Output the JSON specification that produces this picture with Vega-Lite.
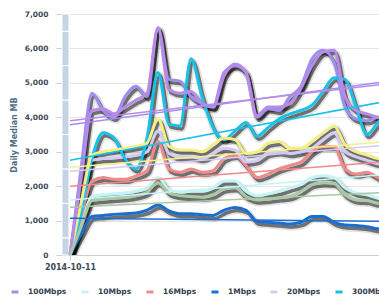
{
"$schema":"https://vega.github.io/schema/vega-lite/v6.json",
"width":330,"height":241,"autosize":"none",
"padding":{"left":62,"top":14,"right":0,"bottom":53},
"background":"white",
"config":{"font":"DejaVu Sans","view":{"stroke":null},
"axisY":{"domain":false,"tickColor":"#c0d0e0","tickSize":6,"labelPadding":8,"labelFontSize":7.5,"labelFontWeight":"bold","labelColor":"#3b4a58","gridColor":"#e6e6e6","titleFontSize":8,"titleFontWeight":"bold","titleColor":"#4d6f86","titlePadding":6},
"axisX":{"grid":false,"domainColor":"#c0d0e0","tickColor":"#c0d0e0","tickSize":5,"labelFontSize":8,"labelFontWeight":"bold","labelColor":"#3b4a58","labelPadding":3,"labelFlush":false}},
"datasets":{
"band":[{"from":"2014/10/10 06:33","to":"2014/10/10 21:49","lo":0,"hi":500},{"from":"2014/10/10 06:33","to":"2014/10/10 21:49","lo":500,"hi":1500},{"from":"2014/10/10 06:33","to":"2014/10/10 21:49","lo":1500,"hi":2500},{"from":"2014/10/10 06:33","to":"2014/10/10 21:49","lo":2500,"hi":3500},{"from":"2014/10/10 06:33","to":"2014/10/10 21:49","lo":3500,"hi":4500},{"from":"2014/10/10 06:33","to":"2014/10/10 21:49","lo":4500,"hi":5500},{"from":"2014/10/10 06:33","to":"2014/10/10 21:49","lo":5500,"hi":6500},{"from":"2014/10/10 06:33","to":"2014/10/10 21:49","lo":6500,"hi":7000}],
"trend":[
{"series":"100Mbps","date":"2014/10/11","mb":3780},{"series":"100Mbps","date":"2014/11/09","mb":5050},
{"series":"10Mbps","date":"2014/10/11","mb":1600},{"series":"10Mbps","date":"2014/11/09","mb":2350},
{"series":"16Mbps","date":"2014/10/11","mb":2000},{"series":"16Mbps","date":"2014/11/09","mb":2720},
{"series":"1Mbps","date":"2014/10/11","mb":1070},{"series":"1Mbps","date":"2014/11/09","mb":980},
{"series":"20Mbps","date":"2014/10/11","mb":2430},{"series":"20Mbps","date":"2014/11/09","mb":3200},
{"series":"300Mbps","date":"2014/10/11","mb":2750},{"series":"300Mbps","date":"2014/11/09","mb":4480},
{"series":"30Mbps","date":"2014/10/11","mb":2550},{"series":"30Mbps","date":"2014/11/09","mb":3300},
{"series":"500Mbps","date":"2014/10/11","mb":3900},{"series":"500Mbps","date":"2014/11/09","mb":4980},
{"series":"5Mbps","date":"2014/10/11","mb":1390},{"series":"5Mbps","date":"2014/11/09","mb":1820}],
"daily":[
{"series":"100Mbps","date":"2014/10/11","mb":0},{"series":"100Mbps","date":"2014/10/12","mb":2500},{"series":"100Mbps","date":"2014/10/13","mb":4700},{"series":"100Mbps","date":"2014/10/14","mb":4200},{"series":"100Mbps","date":"2014/10/15","mb":4000},{"series":"100Mbps","date":"2014/10/16","mb":4600},{"series":"100Mbps","date":"2014/10/17","mb":4900},{"series":"100Mbps","date":"2014/10/18","mb":4600},{"series":"100Mbps","date":"2014/10/19","mb":6600},{"series":"100Mbps","date":"2014/10/20","mb":5100},{"series":"100Mbps","date":"2014/10/21","mb":5050},{"series":"100Mbps","date":"2014/10/22","mb":4600},{"series":"100Mbps","date":"2014/10/23","mb":4400},{"series":"100Mbps","date":"2014/10/24","mb":4300},{"series":"100Mbps","date":"2014/10/25","mb":5300},{"series":"100Mbps","date":"2014/10/26","mb":5500},{"series":"100Mbps","date":"2014/10/27","mb":5300},{"series":"100Mbps","date":"2014/10/28","mb":4000},{"series":"100Mbps","date":"2014/10/29","mb":4250},{"series":"100Mbps","date":"2014/10/30","mb":4200},{"series":"100Mbps","date":"2014/10/31","mb":4600},{"series":"100Mbps","date":"2014/11/01","mb":4900},{"series":"100Mbps","date":"2014/11/02","mb":5700},{"series":"100Mbps","date":"2014/11/03","mb":5950},{"series":"100Mbps","date":"2014/11/04","mb":5600},{"series":"100Mbps","date":"2014/11/05","mb":4300},{"series":"100Mbps","date":"2014/11/06","mb":3950},{"series":"100Mbps","date":"2014/11/07","mb":3900},{"series":"100Mbps","date":"2014/11/08","mb":4000},{"series":"100Mbps","date":"2014/11/09","mb":4000},
{"series":"10Mbps","date":"2014/10/11","mb":0},{"series":"10Mbps","date":"2014/10/12","mb":900},{"series":"10Mbps","date":"2014/10/13","mb":1700},{"series":"10Mbps","date":"2014/10/14","mb":1750},{"series":"10Mbps","date":"2014/10/15","mb":1780},{"series":"10Mbps","date":"2014/10/16","mb":1800},{"series":"10Mbps","date":"2014/10/17","mb":1850},{"series":"10Mbps","date":"2014/10/18","mb":1950},{"series":"10Mbps","date":"2014/10/19","mb":2250},{"series":"10Mbps","date":"2014/10/20","mb":1900},{"series":"10Mbps","date":"2014/10/21","mb":1820},{"series":"10Mbps","date":"2014/10/22","mb":1850},{"series":"10Mbps","date":"2014/10/23","mb":1850},{"series":"10Mbps","date":"2014/10/24","mb":1950},{"series":"10Mbps","date":"2014/10/25","mb":2150},{"series":"10Mbps","date":"2014/10/26","mb":2150},{"series":"10Mbps","date":"2014/10/27","mb":1850},{"series":"10Mbps","date":"2014/10/28","mb":1720},{"series":"10Mbps","date":"2014/10/29","mb":1780},{"series":"10Mbps","date":"2014/10/30","mb":1850},{"series":"10Mbps","date":"2014/10/31","mb":1950},{"series":"10Mbps","date":"2014/11/01","mb":2050},{"series":"10Mbps","date":"2014/11/02","mb":2250},{"series":"10Mbps","date":"2014/11/03","mb":2300},{"series":"10Mbps","date":"2014/11/04","mb":2250},{"series":"10Mbps","date":"2014/11/05","mb":1950},{"series":"10Mbps","date":"2014/11/06","mb":1800},{"series":"10Mbps","date":"2014/11/07","mb":1750},{"series":"10Mbps","date":"2014/11/08","mb":1650},{"series":"10Mbps","date":"2014/11/09","mb":1600},
{"series":"16Mbps","date":"2014/10/11","mb":0},{"series":"16Mbps","date":"2014/10/12","mb":1100},{"series":"16Mbps","date":"2014/10/13","mb":2150},{"series":"16Mbps","date":"2014/10/14","mb":2250},{"series":"16Mbps","date":"2014/10/15","mb":2200},{"series":"16Mbps","date":"2014/10/16","mb":2200},{"series":"16Mbps","date":"2014/10/17","mb":2300},{"series":"16Mbps","date":"2014/10/18","mb":2450},{"series":"16Mbps","date":"2014/10/19","mb":3300},{"series":"16Mbps","date":"2014/10/20","mb":2500},{"series":"16Mbps","date":"2014/10/21","mb":2400},{"series":"16Mbps","date":"2014/10/22","mb":2500},{"series":"16Mbps","date":"2014/10/23","mb":2400},{"series":"16Mbps","date":"2014/10/24","mb":2450},{"series":"16Mbps","date":"2014/10/25","mb":2800},{"series":"16Mbps","date":"2014/10/26","mb":2900},{"series":"16Mbps","date":"2014/10/27","mb":2600},{"series":"16Mbps","date":"2014/10/28","mb":2250},{"series":"16Mbps","date":"2014/10/29","mb":2350},{"series":"16Mbps","date":"2014/10/30","mb":2500},{"series":"16Mbps","date":"2014/10/31","mb":2600},{"series":"16Mbps","date":"2014/11/01","mb":2700},{"series":"16Mbps","date":"2014/11/02","mb":3000},{"series":"16Mbps","date":"2014/11/03","mb":3150},{"series":"16Mbps","date":"2014/11/04","mb":3150},{"series":"16Mbps","date":"2014/11/05","mb":2500},{"series":"16Mbps","date":"2014/11/06","mb":2350},{"series":"16Mbps","date":"2014/11/07","mb":2400},{"series":"16Mbps","date":"2014/11/08","mb":2250},{"series":"16Mbps","date":"2014/11/09","mb":2200},
{"series":"1Mbps","date":"2014/10/11","mb":0},{"series":"1Mbps","date":"2014/10/12","mb":600},{"series":"1Mbps","date":"2014/10/13","mb":1120},{"series":"1Mbps","date":"2014/10/14","mb":1150},{"series":"1Mbps","date":"2014/10/15","mb":1180},{"series":"1Mbps","date":"2014/10/16","mb":1200},{"series":"1Mbps","date":"2014/10/17","mb":1220},{"series":"1Mbps","date":"2014/10/18","mb":1300},{"series":"1Mbps","date":"2014/10/19","mb":1450},{"series":"1Mbps","date":"2014/10/20","mb":1280},{"series":"1Mbps","date":"2014/10/21","mb":1200},{"series":"1Mbps","date":"2014/10/22","mb":1200},{"series":"1Mbps","date":"2014/10/23","mb":1170},{"series":"1Mbps","date":"2014/10/24","mb":1150},{"series":"1Mbps","date":"2014/10/25","mb":1300},{"series":"1Mbps","date":"2014/10/26","mb":1380},{"series":"1Mbps","date":"2014/10/27","mb":1300},{"series":"1Mbps","date":"2014/10/28","mb":980},{"series":"1Mbps","date":"2014/10/29","mb":950},{"series":"1Mbps","date":"2014/10/30","mb":930},{"series":"1Mbps","date":"2014/10/31","mb":900},{"series":"1Mbps","date":"2014/11/01","mb":950},{"series":"1Mbps","date":"2014/11/02","mb":1120},{"series":"1Mbps","date":"2014/11/03","mb":1120},{"series":"1Mbps","date":"2014/11/04","mb":950},{"series":"1Mbps","date":"2014/11/05","mb":870},{"series":"1Mbps","date":"2014/11/06","mb":860},{"series":"1Mbps","date":"2014/11/07","mb":820},{"series":"1Mbps","date":"2014/11/08","mb":760},{"series":"1Mbps","date":"2014/11/09","mb":740},
{"series":"20Mbps","date":"2014/10/11","mb":0},{"series":"20Mbps","date":"2014/10/12","mb":1400},{"series":"20Mbps","date":"2014/10/13","mb":2750},{"series":"20Mbps","date":"2014/10/14","mb":2800},{"series":"20Mbps","date":"2014/10/15","mb":2820},{"series":"20Mbps","date":"2014/10/16","mb":2850},{"series":"20Mbps","date":"2014/10/17","mb":2900},{"series":"20Mbps","date":"2014/10/18","mb":3000},{"series":"20Mbps","date":"2014/10/19","mb":3600},{"series":"20Mbps","date":"2014/10/20","mb":2950},{"series":"20Mbps","date":"2014/10/21","mb":2850},{"series":"20Mbps","date":"2014/10/22","mb":2850},{"series":"20Mbps","date":"2014/10/23","mb":2800},{"series":"20Mbps","date":"2014/10/24","mb":2950},{"series":"20Mbps","date":"2014/10/25","mb":3100},{"series":"20Mbps","date":"2014/10/26","mb":3050},{"series":"20Mbps","date":"2014/10/27","mb":2700},{"series":"20Mbps","date":"2014/10/28","mb":2750},{"series":"20Mbps","date":"2014/10/29","mb":2950},{"series":"20Mbps","date":"2014/10/30","mb":3000},{"series":"20Mbps","date":"2014/10/31","mb":2950},{"series":"20Mbps","date":"2014/11/01","mb":3000},{"series":"20Mbps","date":"2014/11/02","mb":3100},{"series":"20Mbps","date":"2014/11/03","mb":3350},{"series":"20Mbps","date":"2014/11/04","mb":3550},{"series":"20Mbps","date":"2014/11/05","mb":3000},{"series":"20Mbps","date":"2014/11/06","mb":2850},{"series":"20Mbps","date":"2014/11/07","mb":2750},{"series":"20Mbps","date":"2014/11/08","mb":2650},{"series":"20Mbps","date":"2014/11/09","mb":2600},
{"series":"300Mbps","date":"2014/10/11","mb":0},{"series":"300Mbps","date":"2014/10/12","mb":1200},{"series":"300Mbps","date":"2014/10/13","mb":2800},{"series":"300Mbps","date":"2014/10/14","mb":3550},{"series":"300Mbps","date":"2014/10/15","mb":3400},{"series":"300Mbps","date":"2014/10/16","mb":2800},{"series":"300Mbps","date":"2014/10/17","mb":2500},{"series":"300Mbps","date":"2014/10/18","mb":3400},{"series":"300Mbps","date":"2014/10/19","mb":5300},{"series":"300Mbps","date":"2014/10/20","mb":3800},{"series":"300Mbps","date":"2014/10/21","mb":3750},{"series":"300Mbps","date":"2014/10/22","mb":5700},{"series":"300Mbps","date":"2014/10/23","mb":4600},{"series":"300Mbps","date":"2014/10/24","mb":3700},{"series":"300Mbps","date":"2014/10/25","mb":3350},{"series":"300Mbps","date":"2014/10/26","mb":3600},{"series":"300Mbps","date":"2014/10/27","mb":3850},{"series":"300Mbps","date":"2014/10/28","mb":3450},{"series":"300Mbps","date":"2014/10/29","mb":3700},{"series":"300Mbps","date":"2014/10/30","mb":3950},{"series":"300Mbps","date":"2014/10/31","mb":4100},{"series":"300Mbps","date":"2014/11/01","mb":4200},{"series":"300Mbps","date":"2014/11/02","mb":4350},{"series":"300Mbps","date":"2014/11/03","mb":4750},{"series":"300Mbps","date":"2014/11/04","mb":5150},{"series":"300Mbps","date":"2014/11/05","mb":5100},{"series":"300Mbps","date":"2014/11/06","mb":4300},{"series":"300Mbps","date":"2014/11/07","mb":3500},{"series":"300Mbps","date":"2014/11/08","mb":3850},{"series":"300Mbps","date":"2014/11/09","mb":4100},
{"series":"30Mbps","date":"2014/10/11","mb":0},{"series":"30Mbps","date":"2014/10/12","mb":1500},{"series":"30Mbps","date":"2014/10/13","mb":2900},{"series":"30Mbps","date":"2014/10/14","mb":3000},{"series":"30Mbps","date":"2014/10/15","mb":3050},{"series":"30Mbps","date":"2014/10/16","mb":3100},{"series":"30Mbps","date":"2014/10/17","mb":3150},{"series":"30Mbps","date":"2014/10/18","mb":3250},{"series":"30Mbps","date":"2014/10/19","mb":3950},{"series":"30Mbps","date":"2014/10/20","mb":3150},{"series":"30Mbps","date":"2014/10/21","mb":3050},{"series":"30Mbps","date":"2014/10/22","mb":3050},{"series":"30Mbps","date":"2014/10/23","mb":3000},{"series":"30Mbps","date":"2014/10/24","mb":3200},{"series":"30Mbps","date":"2014/10/25","mb":3400},{"series":"30Mbps","date":"2014/10/26","mb":3350},{"series":"30Mbps","date":"2014/10/27","mb":2950},{"series":"30Mbps","date":"2014/10/28","mb":3000},{"series":"30Mbps","date":"2014/10/29","mb":3250},{"series":"30Mbps","date":"2014/10/30","mb":3300},{"series":"30Mbps","date":"2014/10/31","mb":3100},{"series":"30Mbps","date":"2014/11/01","mb":3100},{"series":"30Mbps","date":"2014/11/02","mb":3300},{"series":"30Mbps","date":"2014/11/03","mb":3550},{"series":"30Mbps","date":"2014/11/04","mb":3750},{"series":"30Mbps","date":"2014/11/05","mb":3200},{"series":"30Mbps","date":"2014/11/06","mb":3000},{"series":"30Mbps","date":"2014/11/07","mb":2900},{"series":"30Mbps","date":"2014/11/08","mb":2800},{"series":"30Mbps","date":"2014/11/09","mb":2750},
{"series":"500Mbps","date":"2014/10/11","mb":0},{"series":"500Mbps","date":"2014/10/12","mb":2200},{"series":"500Mbps","date":"2014/10/13","mb":4200},{"series":"500Mbps","date":"2014/10/14","mb":4250},{"series":"500Mbps","date":"2014/10/15","mb":4100},{"series":"500Mbps","date":"2014/10/16","mb":4300},{"series":"500Mbps","date":"2014/10/17","mb":4500},{"series":"500Mbps","date":"2014/10/18","mb":4700},{"series":"500Mbps","date":"2014/10/19","mb":6600},{"series":"500Mbps","date":"2014/10/20","mb":4800},{"series":"500Mbps","date":"2014/10/21","mb":4700},{"series":"500Mbps","date":"2014/10/22","mb":4750},{"series":"500Mbps","date":"2014/10/23","mb":4400},{"series":"500Mbps","date":"2014/10/24","mb":4300},{"series":"500Mbps","date":"2014/10/25","mb":5200},{"series":"500Mbps","date":"2014/10/26","mb":5550},{"series":"500Mbps","date":"2014/10/27","mb":5300},{"series":"500Mbps","date":"2014/10/28","mb":4050},{"series":"500Mbps","date":"2014/10/29","mb":4300},{"series":"500Mbps","date":"2014/10/30","mb":4300},{"series":"500Mbps","date":"2014/10/31","mb":4400},{"series":"500Mbps","date":"2014/11/01","mb":4850},{"series":"500Mbps","date":"2014/11/02","mb":5500},{"series":"500Mbps","date":"2014/11/03","mb":5900},{"series":"500Mbps","date":"2014/11/04","mb":5950},{"series":"500Mbps","date":"2014/11/05","mb":4600},{"series":"500Mbps","date":"2014/11/06","mb":4200},{"series":"500Mbps","date":"2014/11/07","mb":4100},{"series":"500Mbps","date":"2014/11/08","mb":4000},{"series":"500Mbps","date":"2014/11/09","mb":3950},
{"series":"5Mbps","date":"2014/10/11","mb":0},{"series":"5Mbps","date":"2014/10/12","mb":800},{"series":"5Mbps","date":"2014/10/13","mb":1580},{"series":"5Mbps","date":"2014/10/14","mb":1620},{"series":"5Mbps","date":"2014/10/15","mb":1650},{"series":"5Mbps","date":"2014/10/16","mb":1670},{"series":"5Mbps","date":"2014/10/17","mb":1720},{"series":"5Mbps","date":"2014/10/18","mb":1820},{"series":"5Mbps","date":"2014/10/19","mb":2100},{"series":"5Mbps","date":"2014/10/20","mb":1800},{"series":"5Mbps","date":"2014/10/21","mb":1720},{"series":"5Mbps","date":"2014/10/22","mb":1700},{"series":"5Mbps","date":"2014/10/23","mb":1680},{"series":"5Mbps","date":"2014/10/24","mb":1750},{"series":"5Mbps","date":"2014/10/25","mb":1920},{"series":"5Mbps","date":"2014/10/26","mb":1950},{"series":"5Mbps","date":"2014/10/27","mb":1700},{"series":"5Mbps","date":"2014/10/28","mb":1600},{"series":"5Mbps","date":"2014/10/29","mb":1620},{"series":"5Mbps","date":"2014/10/30","mb":1660},{"series":"5Mbps","date":"2014/10/31","mb":1700},{"series":"5Mbps","date":"2014/11/01","mb":1850},{"series":"5Mbps","date":"2014/11/02","mb":2050},{"series":"5Mbps","date":"2014/11/03","mb":2100},{"series":"5Mbps","date":"2014/11/04","mb":2080},{"series":"5Mbps","date":"2014/11/05","mb":1750},{"series":"5Mbps","date":"2014/11/06","mb":1600},{"series":"5Mbps","date":"2014/11/07","mb":1580},{"series":"5Mbps","date":"2014/11/08","mb":1500},{"series":"5Mbps","date":"2014/11/09","mb":1480}]
},
"layer":[
{"data":{"name":"band"},"mark":{"type":"rect","fill":"#c5d3e2","stroke":"white","strokeWidth":1},
"encoding":{
"x":{"field":"from","type":"temporal","title":null,"scale":{"domain":[{"year":2014,"month":10,"date":10,"hours":6,"minutes":33},{"year":2014,"month":11,"date":9,"hours":6,"minutes":33}]},"axis":{"values":[{"year":2014,"month":10,"date":11}],"format":"%Y-%m-%d"}},
"x2":{"field":"to"},
"y":{"field":"lo","type":"quantitative","title":"Daily Median MB","scale":{"domain":[0,7000]},"axis":{"values":[0,1000,2000,3000,4000,5000,6000,7000],"format":",d"}},
"y2":{"field":"hi"}}},
{"data":{"name":"daily"},"mark":{"type":"line","interpolate":"monotone","color":"black","strokeWidth":7,"opacity":0.12,"xOffset":2,"yOffset":3,"clip":true},
"encoding":{"x":{"field":"date","type":"temporal","title":null,"axis":{"values":[{"year":2014,"month":10,"date":11}],"format":"%Y-%m-%d"}},"y":{"field":"mb","type":"quantitative","title":"Daily Median MB","axis":{"values":[0,1000,2000,3000,4000,5000,6000,7000],"format":",d"}},"detail":{"field":"series"}}},
{"data":{"name":"daily"},"mark":{"type":"line","interpolate":"monotone","color":"black","strokeWidth":3.5,"opacity":0.5,"xOffset":2,"yOffset":3,"clip":true},
"encoding":{"x":{"field":"date","type":"temporal","title":null,"axis":{"values":[{"year":2014,"month":10,"date":11}],"format":"%Y-%m-%d"}},"y":{"field":"mb","type":"quantitative","title":"Daily Median MB","axis":{"values":[0,1000,2000,3000,4000,5000,6000,7000],"format":",d"}},"detail":{"field":"series"}}},
{"data":{"name":"daily"},"mark":{"type":"line","interpolate":"monotone","strokeWidth":3,"clip":true},
"encoding":{"x":{"field":"date","type":"temporal","title":null,"axis":{"values":[{"year":2014,"month":10,"date":11}],"format":"%Y-%m-%d"}},"y":{"field":"mb","type":"quantitative","title":"Daily Median MB","axis":{"values":[0,1000,2000,3000,4000,5000,6000,7000],"format":",d"}},
"color":{"field":"series","type":"nominal","scale":{"domain":["100Mbps","10Mbps","16Mbps","1Mbps","20Mbps","300Mbps","30Mbps","500Mbps","5Mbps"],"range":["#9d8ff0","#c4f4f6","#f08a8a","#1a6ecf","#d2cbf5","#17c2e8","#f4ef85","#b98ae8","#a9c9a4"]},
"legend":{"orient":"none","legendX":-52,"legendY":273,"direction":"horizontal","columns":9,"symbolType":"stroke","symbolSize":49,"symbolStrokeWidth":3,"labelFontSize":7.5,"labelFontWeight":"bold","labelColor":"#333f4d","labelOffset":8,"columnPadding":8,"title":null,"padding":0}}}},
{"data":{"name":"trend"},"mark":{"type":"line","strokeWidth":1.5,"clip":true},
"encoding":{"x":{"field":"date","type":"temporal","title":null,"axis":{"values":[{"year":2014,"month":10,"date":11}],"format":"%Y-%m-%d"}},"y":{"field":"mb","type":"quantitative","title":"Daily Median MB","axis":{"values":[0,1000,2000,3000,4000,5000,6000,7000],"format":",d"}},"color":{"field":"series","type":"nominal"}}}
]
}
